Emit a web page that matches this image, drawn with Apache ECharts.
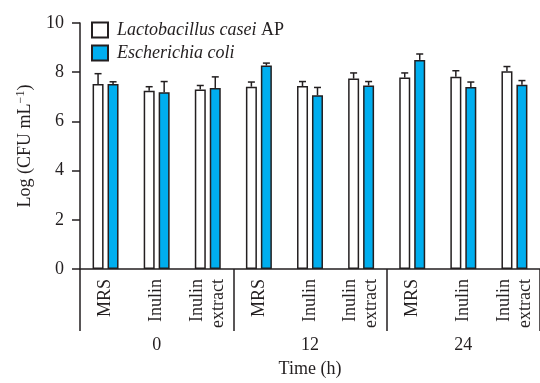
<!DOCTYPE html>
<html>
<head>
<meta charset="utf-8">
<script src="https://cdn.jsdelivr.net/npm/echarts@6/dist/echarts.min.js"></script>
<style>
html, body { margin: 0; padding: 0; background: #fff; }
#chart { width: 540px; height: 383px; }
</style>
</head>
<body>
<div id="chart"></div>
<script>
// growth in MRS / inulin media, log CFU per mL
var categories = ['MRS', 'Inulin', 'Inulin\nextract', 'MRS', 'Inulin', 'Inulin\nextract', 'MRS', 'Inulin', 'Inulin\nextract'];
var timeGroups = ['0', '12', '24'];
var lactoMean = [7.52, 7.25, 7.30, 7.41, 7.44, 7.74, 7.78, 7.82, 8.04];
var lactoErr = [0.42, 0.16, 0.16, 0.19, 0.18, 0.23, 0.19, 0.24, 0.19];
var coliMean = [7.52, 7.18, 7.36, 8.27, 7.06, 7.46, 8.50, 7.40, 7.49];
var coliErr = [0.09, 0.44, 0.45, 0.10, 0.32, 0.16, 0.24, 0.20, 0.17];

var ink = '#231f20';
var blue = '#00aeef';
var serif = '"Liberation Serif", "Times New Roman", serif';

var myChart = echarts.init(document.getElementById('chart'));

function errorBars(mean, err, shift) {
	return {
		type: 'custom',
		xAxisIndex: 0,
		z: 5,
		silent: true,
		renderItem: function (params, api) {
			var base = api.coord([api.value(0), api.value(1)]);
			var top = api.coord([api.value(0), api.value(1) + api.value(2)]);
			var x = base[0] + shift;
			return {
				type: 'group',
				children: [{
						type: 'line',
						shape: { x1: x, y1: base[1], x2: x, y2: top[1] },
						style: { stroke: ink, lineWidth: 1.5 }
					},
					{
						type: 'line',
						shape: { x1: x - 3.5, y1: top[1], x2: x + 3.5, y2: top[1] },
						style: { stroke: ink, lineWidth: 1.5 }
					}
				]
			};
		},
		data: mean.map(function (v, i) { return [i, v, err[i]]; })
	};
}

var option = {
	animation: false,
	textStyle: { fontFamily: serif, color: ink },
	grid: { left: 80, top: 23, width: 471, height: 251 },
	legend: {
		data: ['Lactobacillus casei AP', 'Escherichia coli'],
		orient: 'vertical',
		left: 86,
		top: 16,
		itemWidth: 16,
		itemHeight: 15,
		itemGap: 5,
		icon: 'rect',
		formatter: function (name) {
			if (name === 'Lactobacillus casei AP') return '{i|Lactobacillus casei} AP';
			return '{i|' + name + '}';
		},
		textStyle: {
			fontFamily: serif,
			fontSize: 18,
			color: ink,
			padding: [0, 0, 0, 4],
			rich: {
				i: { fontStyle: 'italic', fontFamily: serif, fontSize: 18, color: ink }
			}
		}
	},
	xAxis: [{
			type: 'category',
			data: categories,
			axisLine: { lineStyle: { color: ink, width: 1.5 } },
			axisTick: { interval: 0, length: 8, lineStyle: { color: ink, width: 1.5 } },
			axisLabel: {
				interval: 0,
				rotate: 90,
				margin: 10,
				fontSize: 18,
				lineHeight: 21,
				color: ink,
				fontFamily: serif
			}
		},
		{
			// time groups, long ticks act as dividers
			type: 'category',
			data: timeGroups,
			position: 'bottom',
			axisLine: { show: true, lineStyle: { color: ink, width: 0, opacity: 0 } },
			axisTick: { show: true, interval: 0, length: 62, lineStyle: { color: ink, width: 1.5, opacity: 1 } },
			axisLabel: { interval: 0, margin: 67, fontSize: 18, color: ink, fontFamily: serif },
			name: 'Time (h)',
			nameLocation: 'middle',
			nameGap: 91,
			nameTextStyle: { fontSize: 18, color: ink, fontFamily: serif }
		}
	],
	yAxis: {
		type: 'value',
		min: 0,
		max: 10,
		interval: 2,
		name: 'Log (CFU mL{sup|−1})',
		nameLocation: 'middle',
		nameRotate: 90,
		nameGap: 44,
		nameTextStyle: {
			fontSize: 18,
			color: ink,
			fontFamily: serif,
			rich: { sup: { fontSize: 12, verticalAlign: 'top', padding: [0, 0, 9, 0], fontFamily: serif, color: ink } }
		},
		axisLine: { show: true, lineStyle: { color: ink, width: 1.5 } },
		axisTick: { show: true, length: 8, lineStyle: { color: ink, width: 1.5 } },
		axisLabel: { fontSize: 18, margin: 16, color: ink, fontFamily: serif },
		splitLine: { show: false }
	},
	series: [{
			name: 'Lactobacillus casei AP',
			type: 'bar',
			barWidth: 11,
			barGap: '36%',
			itemStyle: { color: '#fff', borderColor: ink, borderWidth: 1.5 },
			data: lactoMean
		},
		{
			name: 'Escherichia coli',
			type: 'bar',
			barWidth: 11,
			itemStyle: { color: blue, borderColor: ink, borderWidth: 1.5 },
			data: coliMean
		},
		errorBars(lactoMean, lactoErr, -7.5),
		errorBars(coliMean, coliErr, 7.5)
	]
};

myChart.setOption(option);
</script>
</body>
</html>
